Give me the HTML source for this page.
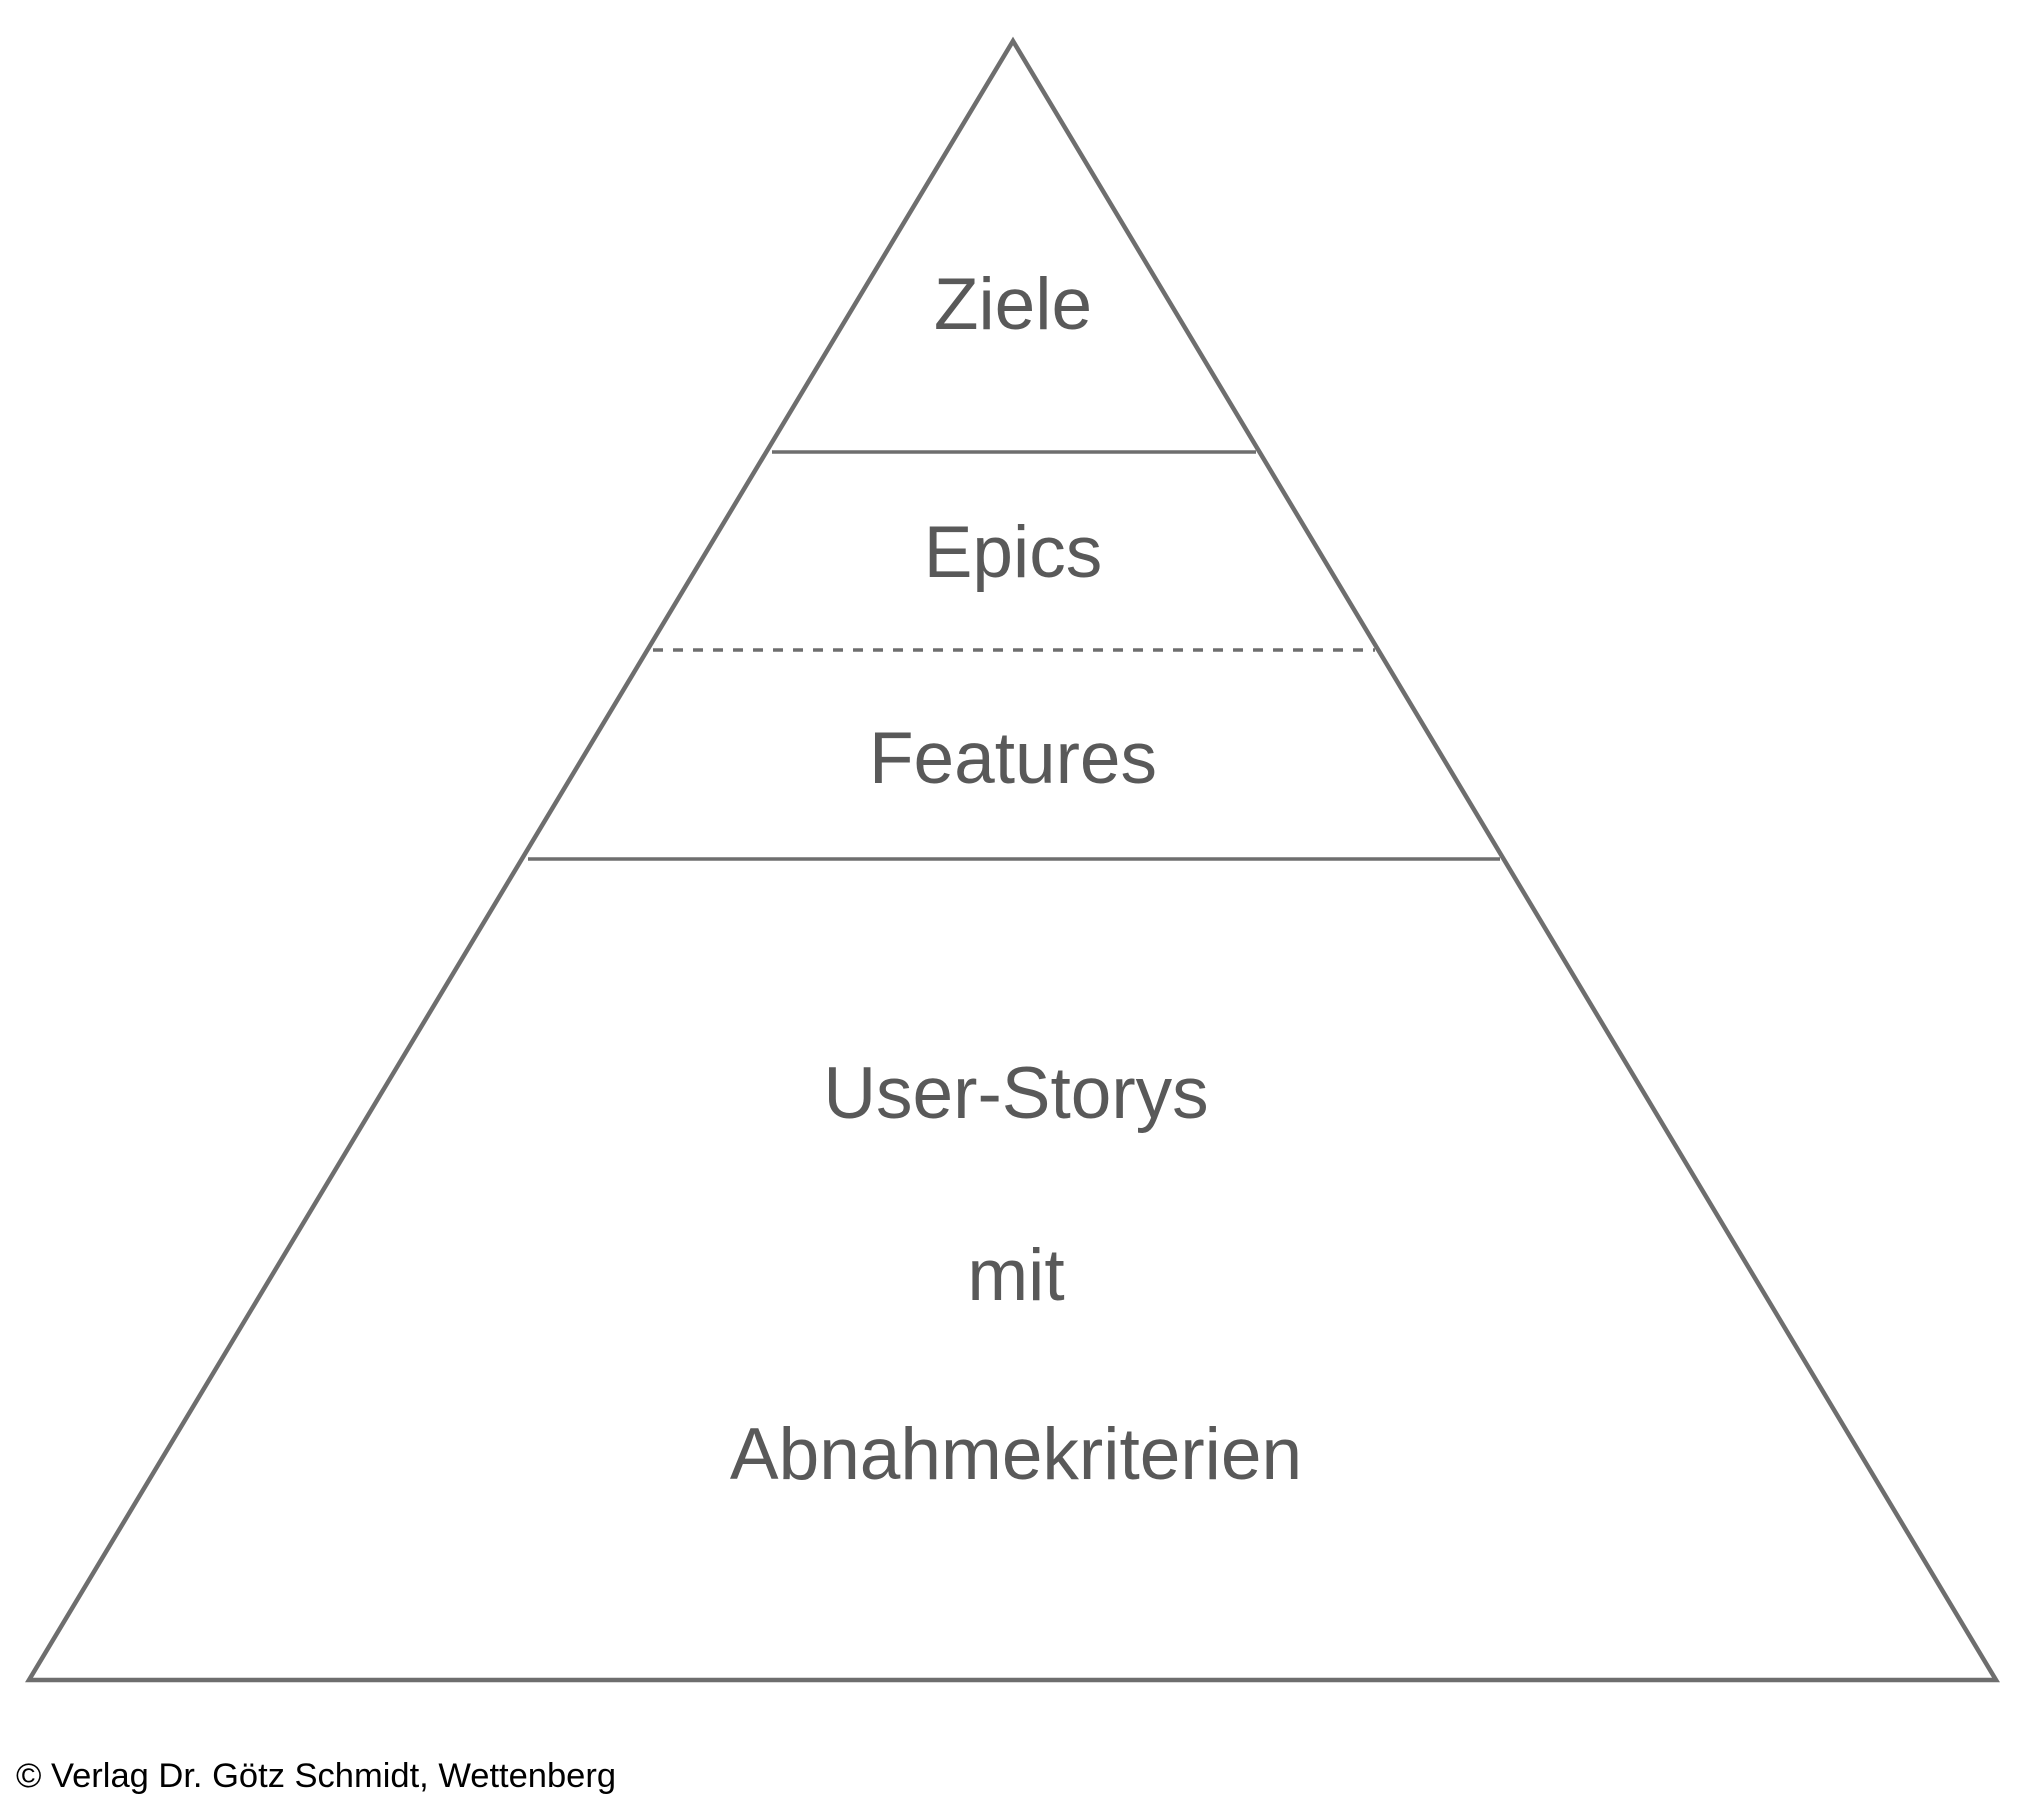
<!DOCTYPE html>
<html><head><meta charset="utf-8"><style>
html,body{margin:0;padding:0;background:#fff;}
svg{display:block;}
</style></head><body>
<svg width="2036" height="1815" xmlns="http://www.w3.org/2000/svg">
<polygon points="1013,41 1996,1680 29,1680" fill="none" stroke="#6e6e6e" stroke-width="4.5" stroke-linejoin="miter"/>
<line x1="772" y1="452" x2="1256" y2="452" stroke="#6e6e6e" stroke-width="3.5"/>
<line x1="653" y1="650" x2="1375" y2="650" stroke="#6e6e6e" stroke-width="3.5" stroke-dasharray="10,10"/>
<line x1="528" y1="859" x2="1500" y2="859" stroke="#6e6e6e" stroke-width="3.5"/>
<g font-family="Liberation Sans, sans-serif" font-size="73" fill="#595959" text-anchor="middle">
<text x="1013" y="329">Ziele</text>
<text x="1013" y="577">Epics</text>
<text x="1013" y="783">Features</text>
<text x="1016" y="1118">User-Storys</text>
<text x="1016" y="1300">mit</text>
<text x="1016" y="1479">Abnahmekriterien</text>
</g>
<text x="16" y="1787" font-family="Liberation Sans, sans-serif" font-size="34.5" fill="#000">© Verlag Dr. Götz Schmidt, Wettenberg</text>
</svg>
</body></html>
